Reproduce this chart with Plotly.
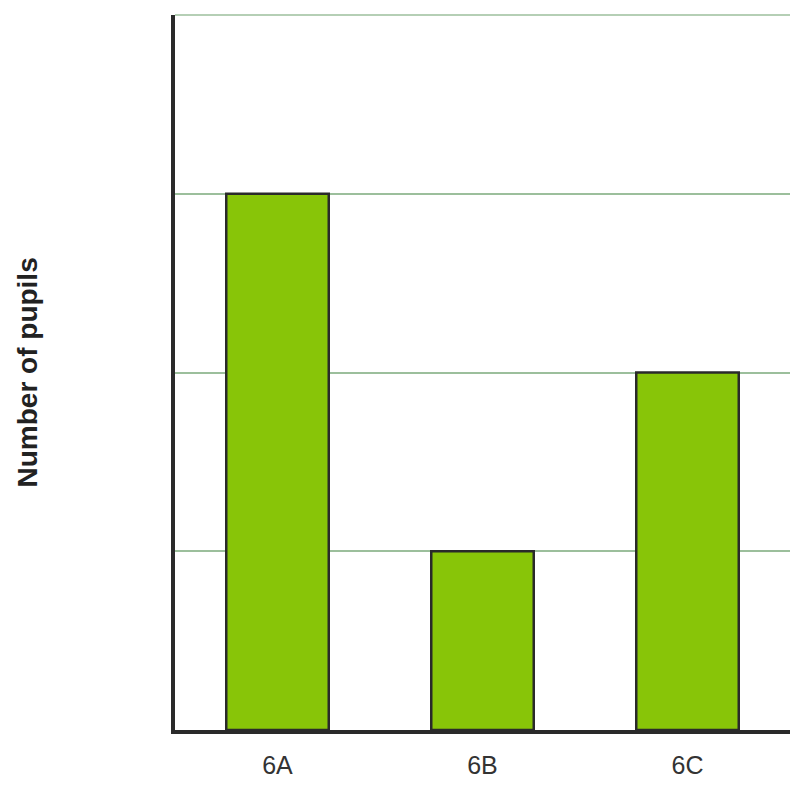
import plotly.graph_objects as go

classes = ["6A", "6B", "6C"]
pupils = [3, 1, 2]

fig = go.Figure()
fig.add_trace(go.Bar(
    x=classes,
    y=pupils,
    marker=dict(color="#88c508", line=dict(color="#2a2a2a", width=2.5)),
    width=0.5,
))

# page body adds ~8px offset, margins compensate
fig.update_layout(
    width=805,
    height=785,
    margin=dict(l=167, r=23, t=7, b=63),
    paper_bgcolor="white",
    plot_bgcolor="white",
    showlegend=False,
    font=dict(family="Liberation Sans, Arial, sans-serif", color="#333333"),
)
fig.update_xaxes(
    showline=True, linecolor="#2a2a2a", linewidth=3.5,
    showgrid=False, ticks="", tickfont=dict(size=25, color="#333333"),
    ticklabelstandoff=10,
)
fig.update_yaxes(
    range=[0, 4], dtick=1, showticklabels=False,
    showline=True, linecolor="#2a2a2a", linewidth=3.5,
    showgrid=True, gridcolor="#9cbf9c", gridwidth=1.5,
    zeroline=False,
)
# top gridline (plotly skips the one at the range edge)
fig.add_shape(
    type="line", xref="paper", yref="paper", x0=0, x1=1, y0=1, y1=1,
    line=dict(color="#9cbf9c", width=1.5), layer="below",
)
fig.add_annotation(
    text="<b>Number of pupils</b>", textangle=-90,
    xref="paper", yref="paper", x=(27 - 175) / 615, y=0.5,
    xanchor="center", yanchor="middle",
    showarrow=False, font=dict(size=28, color="#222222"),
)

fig.write_html("out.html")
